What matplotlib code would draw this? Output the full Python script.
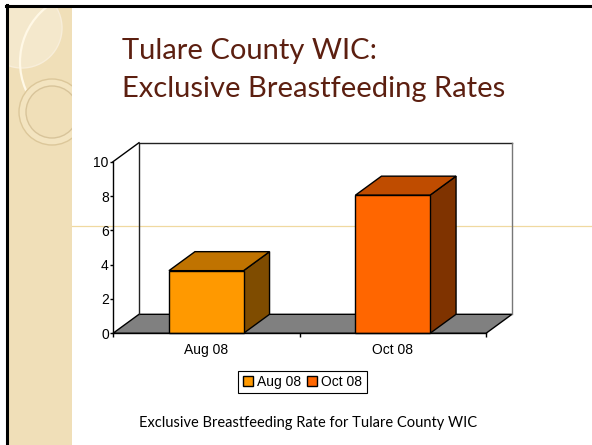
import matplotlib
matplotlib.use('Agg')
import matplotlib.pyplot as plt
from matplotlib.patches import Polygon, Rectangle, Circle, Patch
from matplotlib.lines import Line2D

categories = ['Aug 08', 'Oct 08']
rates = [3.65, 8.05]
front_colors = ['#FF9900', '#FF6600']
top_colors = ['#C07300', '#BF4C00']
side_colors = ['#7F4C00', '#7F3300']
y_ticks = [0, 2, 4, 6, 8, 10]

W, H = 592, 445
narrow = ['Liberation Sans Narrow', 'Liberation Sans', 'DejaVu Sans']
gill = ['Lato', 'DejaVu Sans']

def fx(px):
    return px / W

def fy(py):
    return 1 - py / H

fig = plt.figure(figsize=(W / 100, H / 100), dpi=100)
fig.patch.set_facecolor('white')

# slide background decoration (pixel coordinates)
bg = fig.add_axes([0, 0, 1, 1], zorder=0)
bg.set_xlim(0, W)
bg.set_ylim(H, 0)
bg.axis('off')
strip = Rectangle((8, 7), 64, H - 7, facecolor='#F0DFB8', edgecolor='none')
bg.add_patch(strip)
for c in [Circle((22, 28), 40, facecolor='#F4E8CC', edgecolor='#F8EEDA', lw=1),
          Circle((90, 62), 70, fill=False, edgecolor='#FFF8E6', lw=1.6),
          Circle((52, 112), 33, facecolor='#F3E4C0', edgecolor='#DCC79A', lw=1),
          Circle((52, 112), 26, facecolor='#F0DFB8', edgecolor='#D8C49A', lw=1)]:
    bg.add_patch(c)
    c.set_clip_path(strip)
bg.add_line(Line2D([72, W], [226, 226], color='#F0D9A0', lw=0.9))
bg.add_line(Line2D([6, W], [6, 6], color='black', lw=2.2))
bg.add_line(Line2D([7, 7], [5, H], color='black', lw=2.2))

# title
fig.text(fx(122), fy(59), 'Tulare County WIC:', fontsize=21, color='#5C1F10',
         family=gill, va='baseline')
fig.text(fx(122), fy(97), 'Exclusive Breastfeeding Rates', fontsize=21,
         color='#5C1F10', family=gill, va='baseline')

# chart
ax = fig.add_axes([fx(113), fy(333.3), (486 - 113) / W, (333.3 - 161.7) / H],
                  zorder=2)
ax.set_facecolor('none')
ax.set_xlim(0, len(categories))
ax.set_ylim(0, 10)
for s in ['top', 'right']:
    ax.spines[s].set_visible(False)
for s in ['left', 'bottom']:
    ax.spines[s].set_color('black')
    ax.spines[s].set_linewidth(1)
    ax.spines[s].set_zorder(5)

# depth of the 3D effect in data units
bbox = ax.get_window_extent()
ddx = 26 * len(categories) / bbox.width
ddy = 19 * 10 / bbox.height

# floor
ax.add_patch(Polygon([(0, 0), (len(categories), 0),
                      (len(categories) + ddx, ddy), (ddx, ddy)],
                     closed=True, facecolor='#808080', edgecolor='black',
                     lw=1, clip_on=False, zorder=1))
# back wall and left wall top
ax.add_line(Line2D([ddx, ddx, len(categories) + ddx], [ddy, 10 + ddy, 10 + ddy],
                   color='#222222', lw=1, clip_on=False, zorder=1))
ax.add_line(Line2D([len(categories) + ddx] * 2, [10 + ddy, ddy],
                   color='#777777', lw=1, clip_on=False, zorder=1))
ax.add_line(Line2D([0, ddx], [10, 10 + ddy], color='black', lw=1,
                   clip_on=False, zorder=1))

bw = 0.4
for i, v in enumerate(rates):
    x0 = i + 0.5 - bw / 2
    x1 = x0 + bw
    ax.add_patch(Polygon([(x1, 0), (x1 + ddx, ddy), (x1 + ddx, v + ddy), (x1, v)],
                         closed=True, facecolor=side_colors[i], edgecolor='black',
                         lw=1, clip_on=False, zorder=3))
    ax.add_patch(Polygon([(x0, v), (x1, v), (x1 + ddx, v + ddy), (x0 + ddx, v + ddy)],
                         closed=True, facecolor=top_colors[i], edgecolor='black',
                         lw=1, clip_on=False, zorder=3))
    ax.add_patch(Rectangle((x0, 0), bw, v, facecolor=front_colors[i],
                           edgecolor='black', lw=1, clip_on=False, zorder=4))

ax.set_yticks(y_ticks)
ax.set_yticklabels([str(t) for t in y_ticks], fontsize=10, family=narrow)
ax.tick_params(axis='y', length=2.5, width=1, pad=0.5, color='black')
ax.set_xticks(range(len(categories) + 1))
ax.set_xticklabels([])
ax.tick_params(axis='x', which='major', length=3, width=1, color='black')
ax.set_xticks([i + 0.5 for i in range(len(categories))], minor=True)
ax.set_xticklabels(categories, minor=True, fontsize=10, family=narrow)
ax.tick_params(axis='x', which='minor', length=0, pad=7)

handles = [Patch(facecolor=front_colors[i], edgecolor='black', label=categories[i])
           for i in range(len(categories))]
leg = fig.legend(handles=handles, loc='center', bbox_to_anchor=(fx(302.5), fy(382)),
                 ncol=2, fancybox=False, edgecolor='black', framealpha=1,
                 handlelength=0.75, handleheight=0.75, handletextpad=0.3,
                 columnspacing=0.4, borderpad=0.3,
                 prop={'family': narrow, 'size': 10})
leg.get_frame().set_linewidth(0.8)

fig.text(fx(308), fy(427), 'Exclusive Breastfeeding Rate for Tulare County WIC',
         fontsize=10.5, family=gill, ha='center', va='baseline')

fig.savefig('out.png', dpi=100)
